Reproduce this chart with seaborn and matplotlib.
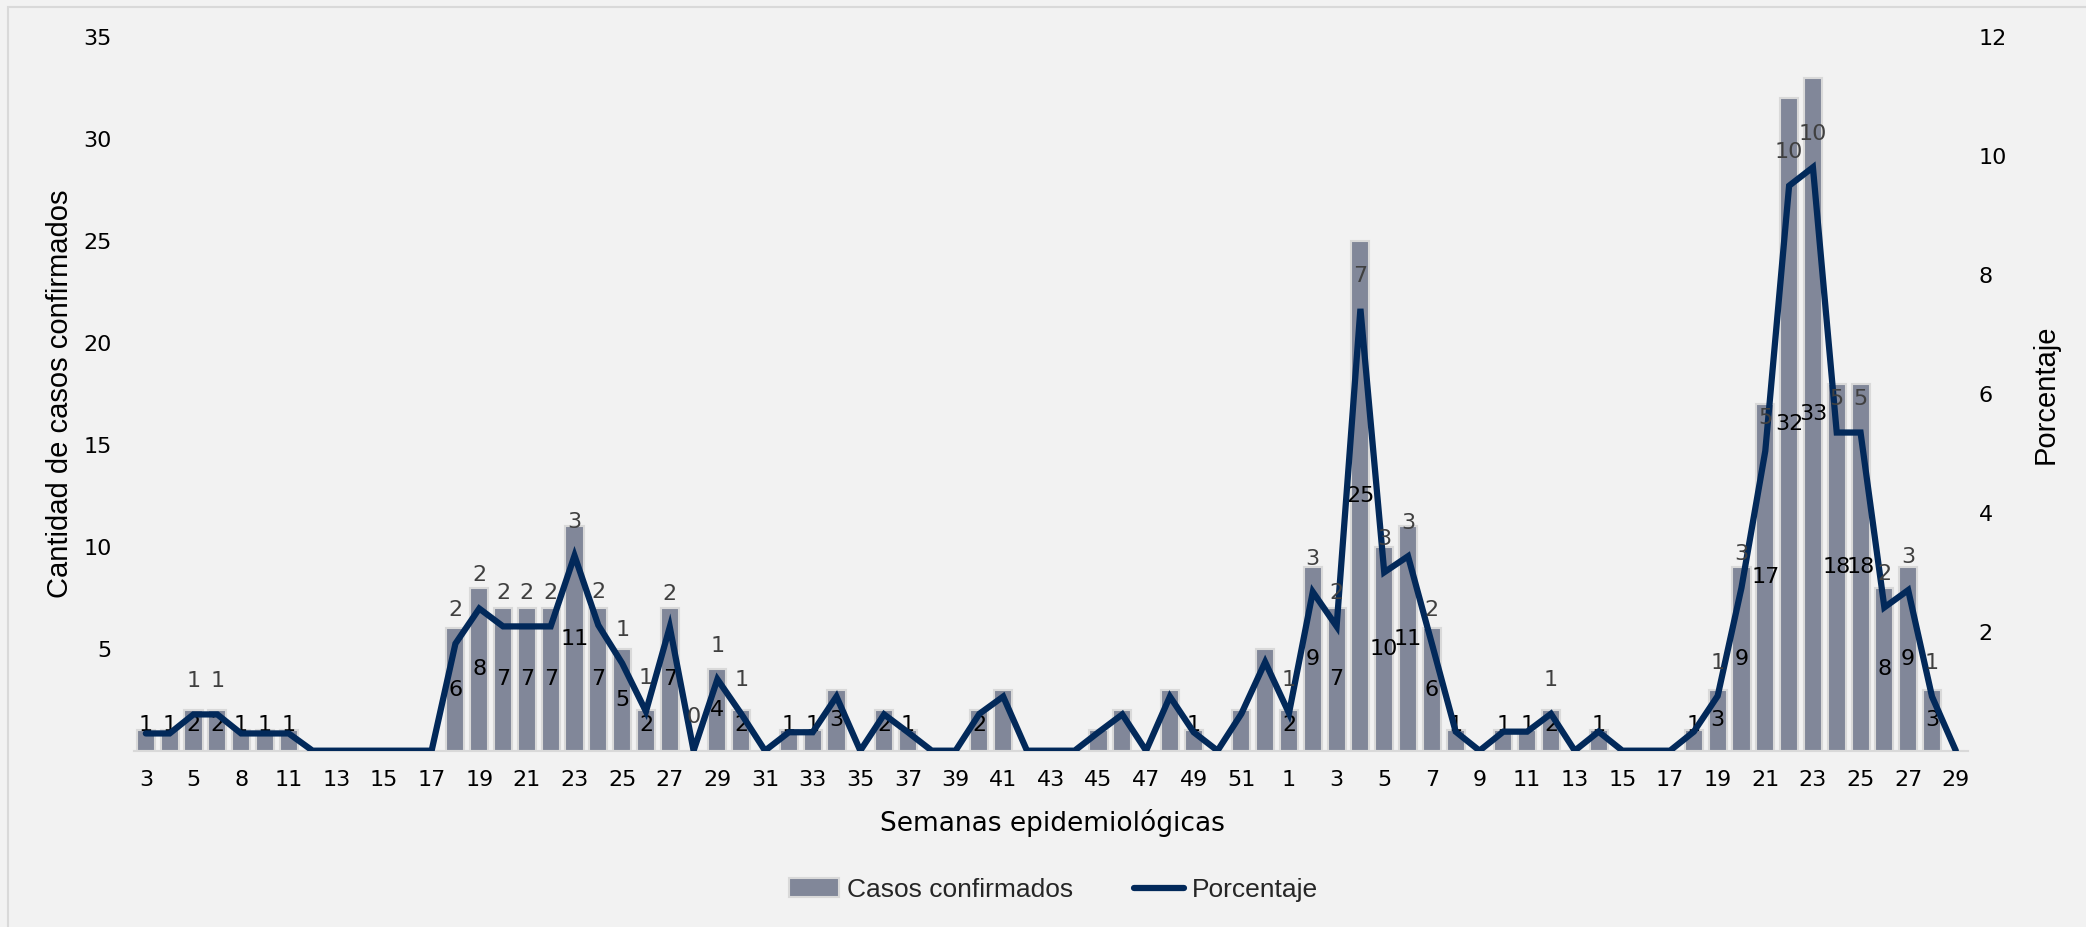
import matplotlib
matplotlib.use("Agg")
import matplotlib.pyplot as plt
import pandas as pd
import seaborn as sns
from matplotlib.patches import Patch, Rectangle
from matplotlib.lines import Line2D

# semanas epidemiologicas (dos temporadas seguidas)
semanas = [3, 4, 5, 6, 8, 9, 11,
           12, 13, 14, 15, 16, 17, 18, 19, 20, 21, 22, 23, 24, 25, 26, 27, 28, 29, 30, 31,
           32, 33, 34, 35, 36, 37, 38, 39, 40, 41, 42, 43, 44, 45, 46, 47, 48, 49, 50, 51, 52,
           1, 2, 3, 4, 5, 6, 7, 8, 9, 10, 11, 12, 13, 14, 15, 16, 17, 18, 19, 20,
           21, 22, 23, 24, 25, 26, 27, 28, 29]

casos = [1, 1, 2, 2, 1, 1, 1,
         0, 0, 0, 0, 0, 0, 6, 8, 7, 7, 7, 11, 7, 5, 2, 7, 0, 4, 2, 0,
         1, 1, 3, 0, 2, 1, 0, 0, 2, 3, 0, 0, 0, 1, 2, 0, 3, 1, 0, 2, 5,
         2, 9, 7, 25, 10, 11, 6, 1, 0, 1, 1, 2, 0, 1, 0, 0, 0, 1, 3, 9,
         17, 32, 33, 18, 18, 8, 9, 3, 0]

porcentaje = [0.29, 0.29, 0.61, 0.61, 0.29, 0.29, 0.29,
              0, 0, 0, 0, 0, 0, 1.80, 2.39, 2.09, 2.09, 2.09, 3.28, 2.11, 1.47, 0.66, 2.08, 0, 1.20, 0.62, 0,
              0.31, 0.31, 0.91, 0, 0.61, 0.31, 0, 0, 0.62, 0.91, 0, 0, 0, 0.31, 0.61, 0, 0.91, 0.31, 0, 0.62, 1.49,
              0.63, 2.67, 2.09, 7.43, 3.00, 3.27, 1.80, 0.32, 0, 0.32, 0.32, 0.62, 0, 0.32, 0, 0, 0, 0.32, 0.92, 2.74,
              5.04, 9.50, 9.81, 5.35, 5.35, 2.41, 2.70, 0.91, 0]

# que etiquetas aparecen en el grafico original
etiqueta_casos = [1, 1, 1, 1, 1, 1, 1,
                  0, 0, 0, 0, 0, 0, 1, 1, 1, 1, 1, 1, 1, 1, 1, 1, 0, 1, 1, 0,
                  1, 1, 1, 0, 1, 1, 0, 0, 1, 0, 0, 0, 0, 0, 0, 0, 0, 1, 0, 0, 0,
                  1, 1, 1, 1, 1, 1, 1, 1, 0, 1, 1, 1, 0, 1, 0, 0, 0, 1, 1, 1,
                  1, 1, 1, 1, 1, 1, 1, 1, 0]
etiqueta_pct = [0, 0, 1, 1, 0, 0, 0,
                0, 0, 0, 0, 0, 0, 1, 1, 1, 1, 1, 1, 1, 1, 1, 1, 1, 1, 1, 0,
                0, 0, 0, 0, 0, 0, 0, 0, 0, 0, 0, 0, 0, 0, 0, 0, 0, 0, 0, 0, 0,
                1, 1, 1, 1, 1, 1, 1, 0, 0, 0, 0, 1, 0, 0, 0, 0, 0, 0, 1, 1,
                1, 1, 1, 1, 1, 1, 1, 1, 0]

COLOR_BARRA = "#818799"
COLOR_BORDE = "#D9D9D9"
COLOR_LINEA = "#02295A"
FONDO = "#F2F2F2"
NARROW = ["Liberation Sans", "DejaVu Sans"]

sns.set_theme(style="white")
plt.rcParams["font.family"] = ["DejaVu Sans"]

df = pd.DataFrame({"pos": range(len(semanas)), "casos": casos, "pct": porcentaje})

fig = plt.figure(figsize=(20.86, 9.27), dpi=100, facecolor=FONDO)
fig.add_artist(Rectangle((0.004, -0.02), 1.1, 1.0125, transform=fig.transFigure,
                         fill=False, edgecolor=COLOR_BORDE, linewidth=1.5))
ax = fig.add_axes([0.0642, 0.1902, 0.8791, 0.7698])
ax.set_facecolor("none")

sns.barplot(data=df, x="pos", y="casos", ax=ax, color=COLOR_BARRA, saturation=1,
            edgecolor=COLOR_BORDE, linewidth=1.5, width=0.76)

ax2 = ax.twinx()
sns.lineplot(data=df, x="pos", y="pct", ax=ax2, color=COLOR_LINEA, linewidth=4.5,
             solid_joinstyle="miter")

ax.set_xlim(-0.5, len(semanas) - 0.5)
ax.set_ylim(0, 35)
ax2.set_ylim(0, 12)
ax.set_yticks(range(5, 36, 5))
ax2.set_yticks(range(2, 13, 2))
ax.set_xticks(range(0, len(semanas), 2))
ax.set_xticklabels([str(semanas[i]) for i in range(0, len(semanas), 2)])

# etiquetas de casos (centro de barra) y de porcentaje (sobre la linea)
for i in range(len(semanas)):
    if etiqueta_casos[i]:
        ax.text(i, max(casos[i] / 2, 1.25), str(casos[i]), ha="center", va="center",
                fontsize=16, color="black", zorder=5)
    if etiqueta_pct[i]:
        ax2.annotate(f"{porcentaje[i]:.0f}", (i, porcentaje[i]), xytext=(0, 24),
                     textcoords="offset points", ha="center", va="center",
                     fontsize=16, color="#404040")

for a in (ax, ax2):
    for s in a.spines.values():
        s.set_visible(False)
ax.spines["bottom"].set_visible(True)
ax.spines["bottom"].set_color(COLOR_BORDE)
ax.spines["bottom"].set_linewidth(1.5)

ax.tick_params(axis="y", length=0, labelsize=16, pad=16, colors="black")
ax.tick_params(axis="x", length=0, labelsize=16, pad=14, colors="black")
ax2.tick_params(axis="y", length=0, labelsize=16, pad=8, colors="black")

ax.set_xlabel("Semanas epidemiológicas", fontsize=19, color="black")
ax.xaxis.set_label_coords(0.5007, -0.082)
ax.set_ylabel("Cantidad de casos confirmados", fontsize=21, color="black", family=NARROW)
ax.yaxis.set_label_coords(-0.0327, 0.5)
ax2.set_ylabel("Porcentaje", fontsize=21, color="black", family=NARROW)
ax2.yaxis.set_label_coords(1.035, 0.5)

handles = [Patch(facecolor=COLOR_BARRA, edgecolor=COLOR_BORDE, linewidth=1.5),
           Line2D([], [], color=COLOR_LINEA, linewidth=4.5, solid_capstyle="round")]
fig.legend(handles, ["Casos confirmados", "Porcentaje"], loc="center",
           bbox_to_anchor=(0.505, 0.04), ncol=2, frameon=False,
           prop={"family": NARROW, "size": 19}, handlelength=1.9,
           handletextpad=0.3, columnspacing=2.3)

fig.savefig("out.png", dpi=100, facecolor=FONDO)
